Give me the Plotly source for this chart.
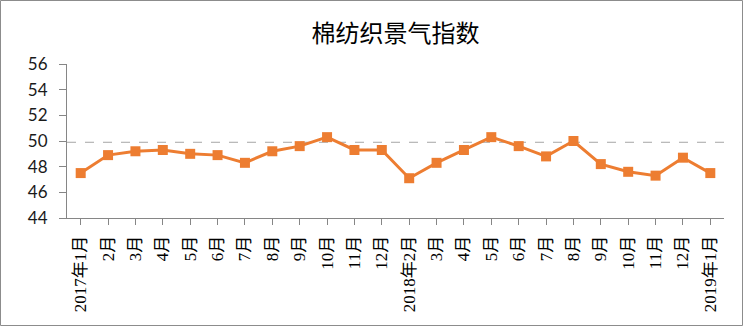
import plotly.graph_objects as go

categories = ["2017年1月", "2月", "3月", "4月", "5月", "6月", "7月", "8月", "9月", "10月", "11月", "12月",
              "2018年2月", "3月", "4月", "5月", "6月", "7月", "8月", "9月", "10月", "11月", "12月",
              "2019年1月"]
values = [47.5, 48.9, 49.2, 49.3, 49.0, 48.9, 48.3, 49.2, 49.6, 50.3, 49.3, 49.3,
          47.1, 48.3, 49.3, 50.3, 49.6, 48.8, 50.0, 48.2, 47.6, 47.3, 48.7, 47.5]
ref_level = 49.9
y_ticks = [44, 46, 48, 50, 52, 54, 56]
title = "棉纺织景气指数"

idx = list(range(len(categories)))

fig = go.Figure()
fig.add_trace(go.Scatter(
    x=idx, y=values, mode="lines+markers",
    line=dict(color="#ED7D31", width=3),
    marker=dict(symbol="square", size=10, color="#ED7D31"),
    showlegend=False, hoverinfo="y"))

fig.add_shape(type="line", xref="paper", yref="y", x0=0, x1=1, y0=ref_level, y1=ref_level,
              line=dict(color="#A6A6A6", width=1, dash="dash"), layer="below")

L, R, T, B = 67, 19, 64, 108
W, H = 743, 326
pw, ph = W - L - R, H - T - B
fig.add_shape(type="rect", xref="paper", yref="paper",
              x0=(0.5 - L) / pw, x1=(W - 0.5 - L) / pw,
              y0=(T + ph - (H - 0.5)) / ph,
              y1=(T + ph - 0.5) / ph,
              line=dict(color="#8C8C8C", width=1))

fig.update_layout(
    width=W, height=H,
    margin=dict(l=L, r=R, t=T, b=B),
    paper_bgcolor="white", plot_bgcolor="white",
    title=dict(text=title, x=0.5, xref="paper", xanchor="center", y=1 - 34 / H, yanchor="middle",
               font=dict(family="Noto Sans CJK SC", size=24, color="#000000")),
    xaxis=dict(
        range=[-0.5, len(categories) - 0.5],
        tickmode="array", tickvals=idx, ticktext=categories,
        tickangle=-90, tickson="boundaries",
        ticks="outside", ticklen=6, tickcolor="#868686",
        showline=True, linecolor="#868686", linewidth=1,
        showgrid=False, zeroline=False,
        ticklabelstandoff=4,
        tickfont=dict(family="Times New Roman, Liberation Serif, Noto Sans CJK SC", size=17, color="#000000"),
    ),
    yaxis=dict(
        range=[44, 56], tickmode="array", tickvals=y_ticks,
        ticks="outside", ticklen=7, tickcolor="#868686",
        showline=True, linecolor="#868686", linewidth=1,
        showgrid=False, zeroline=False,
        ticklabelstandoff=8,
        tickfont=dict(family="Lato, Liberation Sans", size=17, color="#1a1a1a"),
    ),
)

fig.write_html("out.html")
